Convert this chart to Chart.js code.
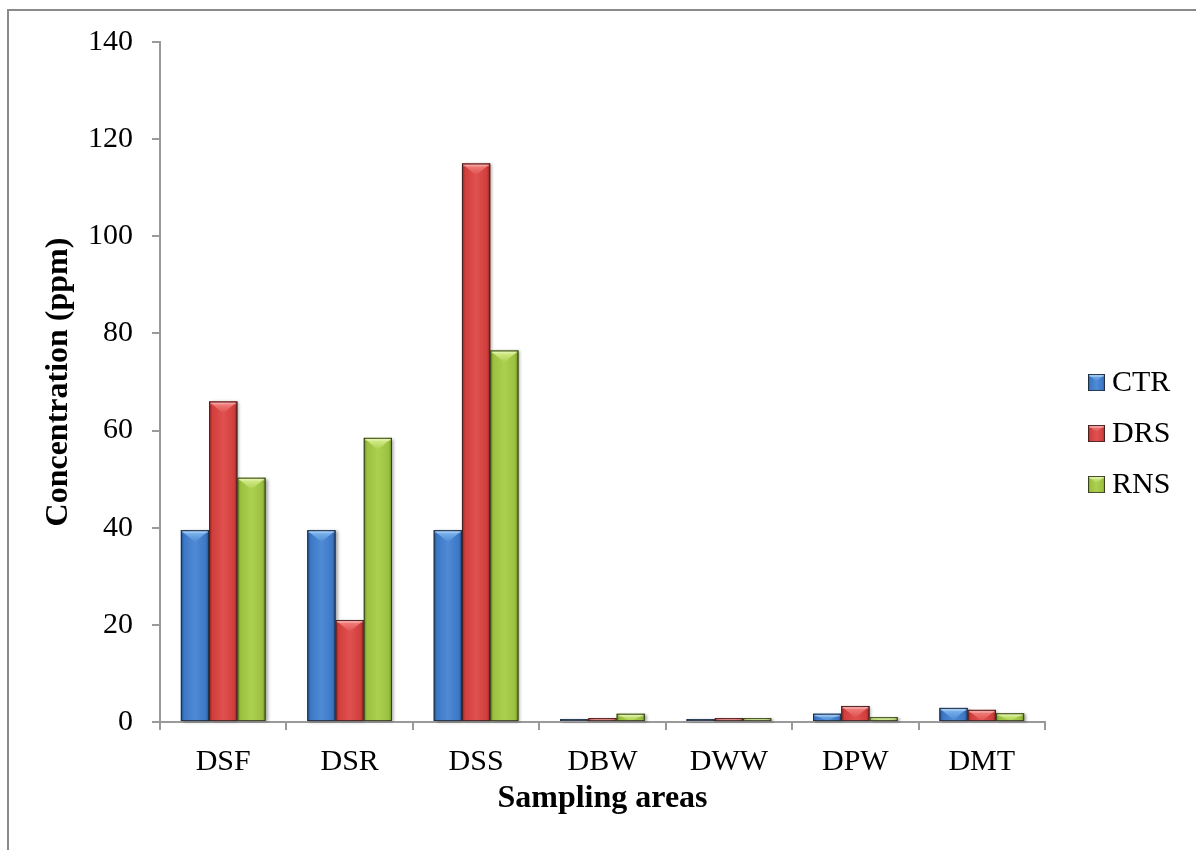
<!DOCTYPE html>
<html><head><meta charset="utf-8">
<script src="https://cdn.jsdelivr.net/npm/chart.js@4/dist/chart.umd.min.js"></script>
<style>
html,body{margin:0;padding:0;background:#fff;}
#wrap{position:relative;width:1196px;height:850px;overflow:hidden;background:#fff;}
#frame{position:absolute;left:7px;top:9px;width:1300px;height:1000px;border-left:2px solid #8a8a8a;border-top:2px solid #8a8a8a;}
canvas{position:absolute;left:0;top:0;}
</style></head><body>
<div id="wrap"><div id="frame"></div><canvas id="c" width="1196" height="850"></canvas></div>
<script>
const categories = ['DSF','DSR','DSS','DBW','DWW','DPW','DMT'];
const seriesNames = ['CTR','DRS','RNS'];
const ctrValues = [39.5, 39.5, 39.5, 0.6, 0.6, 1.7, 2.9];
const drsValues = [66, 21, 115, 0.8, 0.8, 3.3, 2.5];
const rnsValues = [50.3, 58.5, 76.5, 1.7, 0.8, 1.0, 1.8];
const yTickValues = [0, 20, 40, 60, 80, 100, 120, 140];

const palettes = [
  {base:'#3d78c6', dark:'#22508e', light:'#4f8ad6', tri:'#86bdf2', tri2:'#4f8ad6'},
  {base:'#d13f3d', dark:'#922523', light:'#df504e', tri:'#f58886', tri2:'#de504e'},
  {base:'#9cc13f', dark:'#6a8a24', light:'#abcf50', tri:'#dcf394', tri2:'#abcf50'}
];

const FONT = '"Liberation Serif", "Times New Roman", serif';
Chart.defaults.font.family = FONT;
Chart.defaults.color = '#000';

function drawBevelBar(ctx, L, T, w, h, p, shadow){
  if (h <= 0 || w <= 0) return;
  const R = L + w, B = T + h, cx = L + w/2;
  ctx.save();
  if (shadow){
    ctx.shadowColor = 'rgba(0,0,0,0.35)';
    ctx.shadowOffsetX = 2; ctx.shadowOffsetY = 1; ctx.shadowBlur = 3;
  }
  const g = ctx.createLinearGradient(L, 0, R, 0);
  g.addColorStop(0, p.dark);
  g.addColorStop(0.12, p.base);
  g.addColorStop(0.5, p.light);
  g.addColorStop(0.88, p.base);
  g.addColorStop(1, p.dark);
  ctx.fillStyle = g;
  ctx.fillRect(L, T, w, h);
  ctx.restore();
  ctx.save();
  // top bevel triangle
  const d = Math.min(w * 0.42, h);
  const tg = ctx.createLinearGradient(0, T, 0, T + d);
  tg.addColorStop(0, p.tri);
  tg.addColorStop(1, p.tri2);
  ctx.fillStyle = tg;
  ctx.beginPath();
  ctx.moveTo(L + 1, T + 1);
  ctx.lineTo(R - 1, T + 1);
  ctx.lineTo(cx, T + d);
  ctx.closePath();
  ctx.fill();
  // top edge highlight
  ctx.fillStyle = 'rgba(255,255,255,0.25)';
  ctx.fillRect(L + 1, T + 1, w - 2, Math.min(2, h));
  // outline
  ctx.strokeStyle = 'rgba(30,30,30,0.7)';
  ctx.lineWidth = 1;
  ctx.strokeRect(L + 0.5, T + 0.5, w - 1, h - 1);
  ctx.restore();
}

const bevelPlugin = {
  id: 'bevel',
  afterDatasetsDraw(chart){
    const ctx = chart.ctx;
    chart.data.datasets.forEach((ds, i) => {
      const meta = chart.getDatasetMeta(i);
      meta.data.forEach(bar => {
        const pr = bar.getProps(['x','y','base','width'], true);
        const top = Math.min(pr.y, pr.base);
        const h = Math.abs(pr.base - pr.y);
        drawBevelBar(ctx, pr.x - pr.width/2, top, pr.width, h, palettes[i], true);
      });
    });
  },
  afterDraw(chart){
    const ctx = chart.ctx;
    const x0 = chart.chartArea.right + 43;
    const yc0 = 381, step = 51;
    chart.data.datasets.forEach((ds, i) => {
      const yc = yc0 + i * step;
      drawBevelBar(ctx, x0, yc - 7, 17, 17, palettes[i], false);
      ctx.save();
      ctx.font = '30px ' + FONT;
      ctx.fillStyle = '#000';
      ctx.textBaseline = 'alphabetic';
      ctx.textAlign = 'left';
      ctx.fillText(ds.label, x0 + 24, yc + 10);
      ctx.restore();
    });
  }
};

const datasets = [ctrValues, drsValues, rnsValues].map((vals, i) => ({
  label: seriesNames[i],
  data: vals,
  backgroundColor: palettes[i].base,
  borderWidth: 0,
  categoryPercentage: 0.67,
  barPercentage: 1.0
}));

new Chart(document.getElementById('c'), {
  type: 'bar',
  data: { labels: categories, datasets },
  options: {
    responsive: false,
    devicePixelRatio: 1,
    animation: false,
    layout: { padding: { top: 42, right: 151, bottom: 0, left: 0 } },
    plugins: { legend: { display: false }, tooltip: { enabled: false } },
    scales: {
      x: {
        grid: { display: true, drawOnChartArea: false, drawTicks: true, tickLength: 8, color: '#9a9a9a', lineWidth: 2, offset: true },
        border: { display: true, color: '#9a9a9a', width: 2 },
        ticks: { font: { size: 30 }, color: '#000', padding: 14, maxRotation: 0 },
        title: { display: true, text: 'Sampling areas', font: { size: 32, weight: 'bold' }, color: '#000', padding: { top: 0, bottom: 32 } },
        afterFit(scale){ scale.height = 128; }
      },
      y: {
        min: 0, max: 140,
        afterBuildTicks(scale){ scale.ticks = yTickValues.map(v => ({ value: v })); },
        grid: { display: true, drawOnChartArea: false, drawTicks: true, tickLength: 8, color: '#9a9a9a', lineWidth: 2 },
        border: { display: true, color: '#9a9a9a', width: 2 },
        ticks: { font: { size: 30 }, color: '#000', padding: 19 },
        title: { display: true, text: 'Concentration (ppm)', font: { size: 32, weight: 'bold' }, color: '#000', padding: { top: 40, bottom: 0 } },
        afterFit(scale){ scale.width = 160; }
      }
    }
  },
  plugins: [bevelPlugin]
});
</script>
</body></html>
